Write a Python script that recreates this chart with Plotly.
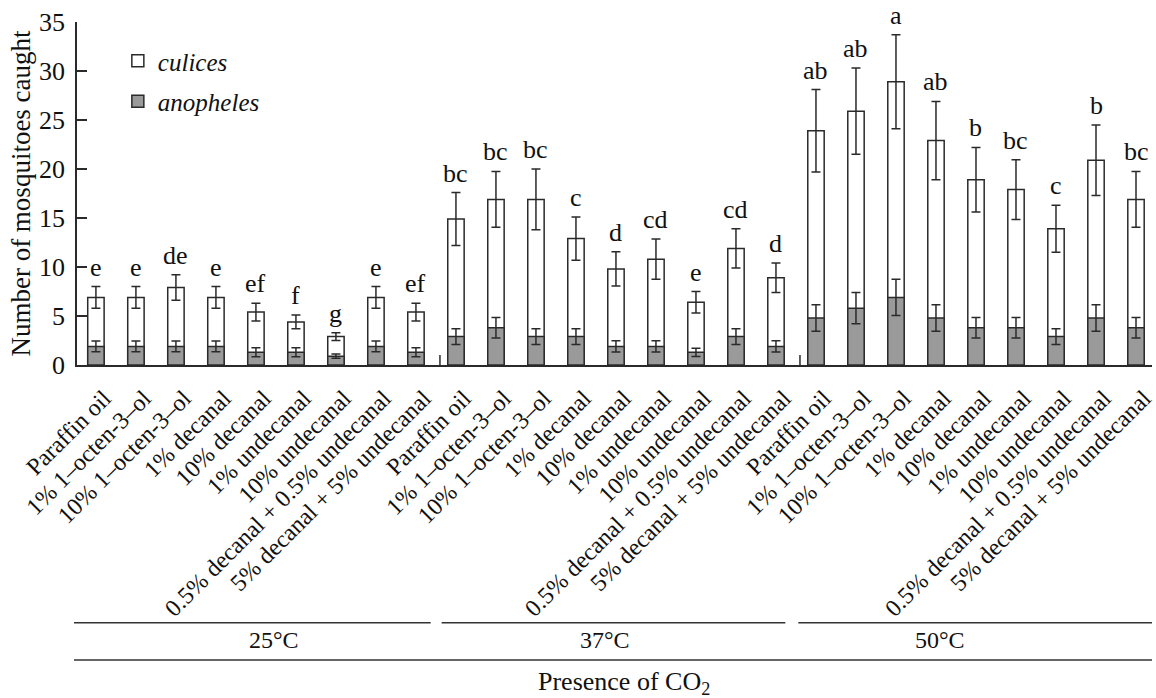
import plotly.graph_objects as go

# Treatments tested at each temperature (CO2 present)
treatments = [
    "Paraffin oil",
    "1% 1–octen-3–ol",
    "10% 1–octen-3–ol",
    "1% decanal",
    "10% decanal",
    "1% undecanal",
    "10% undecanal",
    "0.5% decanal + 0.5% undecanal",
    "5% decanal + 5% undecanal",
]
temperatures = ["25°C", "37°C", "50°C"]

# Total mosquitoes caught (white bars) and SE
total_25 = [6.9, 6.9, 7.9, 6.9, 5.4, 4.4, 2.9, 6.9, 5.4]
total_37 = [14.9, 16.9, 16.9, 12.9, 9.8, 10.8, 6.4, 11.9, 8.9]
total_50 = [23.9, 25.9, 28.9, 22.9, 18.9, 17.9, 13.9, 20.9, 16.9]
total_err_25 = [1.1, 1.1, 1.3, 1.1, 0.9, 0.7, 0.4, 1.1, 0.9]
total_err_37 = [2.7, 2.85, 3.1, 2.2, 1.75, 2.05, 1.1, 2.0, 1.5]
total_err_50 = [4.2, 4.4, 4.8, 4.0, 3.3, 3.05, 2.4, 3.6, 2.85]

# Anopheles caught (grey bars) and SE
anoph_25 = [1.9, 1.9, 1.9, 1.9, 1.3, 1.3, 0.9, 1.9, 1.3]
anoph_37 = [2.9, 3.8, 2.9, 2.9, 1.9, 1.9, 1.3, 2.9, 1.9]
anoph_50 = [4.8, 5.8, 6.9, 4.8, 3.8, 3.8, 2.9, 4.8, 3.8]
anoph_err_25 = [0.55, 0.55, 0.55, 0.55, 0.45, 0.45, 0.22, 0.55, 0.45]
anoph_err_37 = [0.8, 1.05, 0.8, 0.8, 0.57, 0.57, 0.42, 0.8, 0.57]
anoph_err_50 = [1.35, 1.6, 1.85, 1.35, 1.05, 1.05, 0.8, 1.35, 1.05]

# Significance letters
letters_25 = ["e", "e", "de", "e", "ef", "f", "g", "e", "ef"]
letters_37 = ["bc", "bc", "bc", "c", "d", "cd", "e", "cd", "d"]
letters_50 = ["ab", "ab", "a", "ab", "b", "bc", "c", "b", "bc"]

totals = total_25 + total_37 + total_50
totals_err = total_err_25 + total_err_37 + total_err_50
anoph = anoph_25 + anoph_37 + anoph_50
anoph_err = anoph_err_25 + anoph_err_37 + anoph_err_50
letters = letters_25 + letters_37 + letters_50
labels = treatments * 3
xpos = list(range(len(labels)))
# slanted labels sit a little to the right of each bar
label_pos = [x + 0.2 for x in xpos]

FONT = "Liberation Serif, Times New Roman, serif"
INK = "#2a2a2a"

fig = go.Figure()
err_style = dict(type="data", thickness=1.5, width=4.5, color=INK)

fig.add_trace(go.Bar(
    x=xpos, y=totals, name="culices", width=0.41,
    marker=dict(color="white", line=dict(color=INK, width=1.5)),
    error_y=dict(array=totals_err, **err_style),
    legendgroup="c",
))
fig.add_trace(go.Bar(
    x=xpos, y=anoph, name="anopheles", width=0.41,
    marker=dict(color="#9a9a9a", line=dict(color=INK, width=1.5)),
    error_y=dict(array=anoph_err, **err_style),
    legendgroup="a",
))

# Letters above the error bars
for xi, t, e, lab in zip(xpos, totals, totals_err, letters):
    fig.add_annotation(x=xi, y=t + e, text=lab, showarrow=False,
                       xref="x", yref="y", yanchor="bottom", yshift=3,
                       font=dict(family=FONT, size=26, color="#111"))

# Plot area in pixels: left 77, right 1156, top 22, bottom 365
H_PLOT = 343.0
W_PLOT = 1079.0


def py(px):
    return (365.0 - px) / H_PLOT


def pxx(px):
    return (px - 77.0) / W_PLOT


shapes = []
# small group separators on the x axis
for xs in (8.6, 17.6):
    shapes.append(dict(type="line", xref="x", yref="paper", x0=xs, x1=xs,
                       y0=0, y1=10 / H_PLOT, line=dict(color=INK, width=1.5)))
# temperature bracket lines
for a, b in ((74, 432), (443, 788), (801, 1156)):
    shapes.append(dict(type="line", xref="paper", yref="paper",
                       x0=pxx(a), x1=pxx(b), y0=py(622.7), y1=py(622.7),
                       line=dict(color="#333", width=1.5)))
shapes.append(dict(type="line", xref="paper", yref="paper",
                   x0=pxx(74), x1=pxx(1156), y0=py(660), y1=py(660),
                   line=dict(color="#333", width=1.5)))

for tx, temp in zip((247.7, 606.7, 970.7), temperatures):
    fig.add_annotation(x=pxx(tx), y=py(640), xref="paper", yref="paper",
                       text=temp, showarrow=False, yanchor="middle",
                       font=dict(family=FONT, size=24, color="#111"))

fig.add_annotation(x=pxx(626), y=py(683), xref="paper", yref="paper",
                   text="Presence of CO<sub>2</sub>", showarrow=False,
                   yanchor="middle",
                   font=dict(family=FONT, size=26, color="#111"))

fig.update_layout(
    width=1156, height=698,
    margin=dict(l=77, r=0, t=22, b=333, pad=0),
    plot_bgcolor="white", paper_bgcolor="white",
    barmode="overlay",
    font=dict(family=FONT, color="#111"),
    shapes=shapes,
    showlegend=True,
    legend=dict(x=pxx(118), y=py(38), xanchor="left", yanchor="top",
                bgcolor="rgba(0,0,0,0)", tracegroupgap=5,
                traceorder="grouped",
                font=dict(family=FONT, size=25, style="italic", color="#111")),
    xaxis=dict(
        range=[-0.473, 26.4], tickmode="array", tickvals=label_pos,
        ticktext=labels, ticklabeloverflow="allow",
        tickangle=-45, ticks="", showline=True, linecolor=INK, linewidth=1.5,
        showgrid=False, zeroline=False, ticklabelstandoff=8,
        tickfont=dict(family=FONT, size=24, color="#111"),
    ),
    yaxis=dict(
        range=[0, 35], tickvals=[0, 5, 10, 15, 20, 25, 30, 35],
        ticks="inside", ticklen=10, tickwidth=1.5, tickcolor=INK,
        showline=True, linecolor=INK, linewidth=1.5,
        showgrid=False, zeroline=False, ticklabelstandoff=5,
        tickfont=dict(family=FONT, size=26, color="#111"),
        title=dict(text="Number of mosquitoes caught", standoff=1,
                   font=dict(family=FONT, size=27, color="#111")),
    ),
)

fig.write_html("out.html")
